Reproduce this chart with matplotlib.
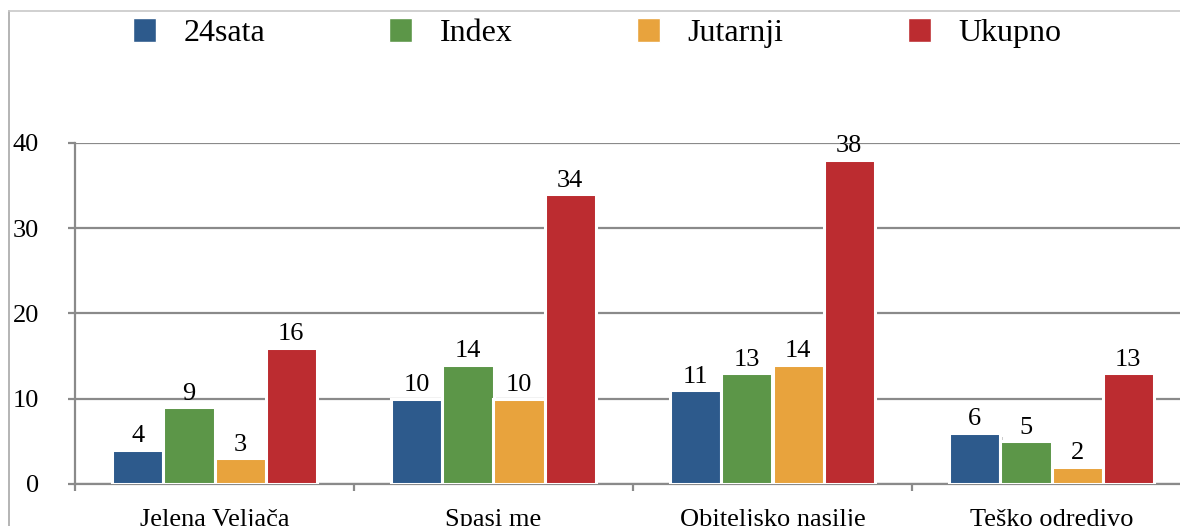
import numpy as np
import matplotlib
matplotlib.use("Agg")
import matplotlib.pyplot as plt
import matplotlib.patheffects as pe
from matplotlib.patches import Patch
from matplotlib.lines import Line2D

categories = ["Jelena Veljača", "Spasi me", "Obiteljsko nasilje", "Teško odredivo"]
series_names = ["24sata", "Index", "Jutarnji", "Ukupno"]
val_24sata = [4, 10, 11, 6]
val_index = [9, 14, 13, 5]
val_jutarnji = [3, 10, 14, 2]
val_ukupno = [16, 34, 38, 13]
colors = ["#2D5A8C", "#5C9648", "#E8A33D", "#BC2C30"]

plt.rcParams['font.family'] = ['Liberation Serif', 'DejaVu Serif']

fig = plt.figure(figsize=(11.8, 5.26), dpi=100)
ax = fig.add_axes([75 / 1180, 42 / 526, 1116 / 1180, 341 / 526])

grey = "#8a8a8a"
x = np.arange(len(categories))
bar_w = 0.183
all_vals = [val_24sata, val_index, val_jutarnji, val_ukupno]

for i, (name, vals, col) in enumerate(zip(series_names, all_vals, colors)):
    pos = x + (i - 1.5) * bar_w
    bars = ax.bar(pos, vals, width=bar_w, color=col, edgecolor="white",
                  linewidth=2.2, zorder=3)
    for b in bars:
        b.set_path_effects([
            pe.SimplePatchShadow(offset=(2, -3), shadow_rgbFace="black", alpha=0.2),
            pe.Normal()])
    for p, v in zip(pos, vals):
        ax.annotate(str(v), (p, v), xytext=(0, 5.5), textcoords="offset points",
                    ha="center", va="baseline", fontsize=19, color="black",
                    zorder=4)

ax.set_xlim(-0.5, 3.5)
ax.set_ylim(0, 40)
ax.set_yticks([0, 10, 20, 30, 40])
ax.yaxis.grid(True, color=grey, linewidth=1.6, zorder=0)
ax.set_axisbelow(True)

ax.set_xticks(x)
ax.set_xticklabels(categories)
ax.set_xticks(np.arange(-0.5, 4.0, 1.0), minor=True)
ax.tick_params(axis="x", which="major", length=0, pad=18, labelsize=19)
ax.tick_params(axis="x", which="minor", length=5, width=1.6, color=grey,
               direction="out")
ax.tick_params(axis="y", length=5, width=1.6, color=grey, direction="out",
               pad=21, labelsize=19)

for s in ["top", "right"]:
    ax.spines[s].set_visible(False)
for s in ["left", "bottom"]:
    ax.spines[s].set_color(grey)
    ax.spines[s].set_linewidth(1.6)

# outer chart frame, partly cropped
fig.add_artist(Line2D([9 / 1180, 9 / 1180], [0, 1 - 11 / 526],
                      transform=fig.transFigure, color="#a8a8a8", linewidth=1.2))
fig.add_artist(Line2D([9 / 1180, 1], [1 - 11 / 526, 1 - 11 / 526],
                      transform=fig.transFigure, color="#c8c8c8", linewidth=1.2))

handles = [Patch(facecolor=c, edgecolor="white", linewidth=1) for c in colors]
fig.legend(handles, series_names, loc="center left",
           bbox_to_anchor=(133 / 1180, 1 - 33 / 526), ncol=4, frameon=False,
           fontsize=23, handlelength=0.72, handleheight=0.78,
           handletextpad=0.85, columnspacing=3.9, borderpad=0,
           borderaxespad=0)

fig.savefig("out.png", dpi=100)
